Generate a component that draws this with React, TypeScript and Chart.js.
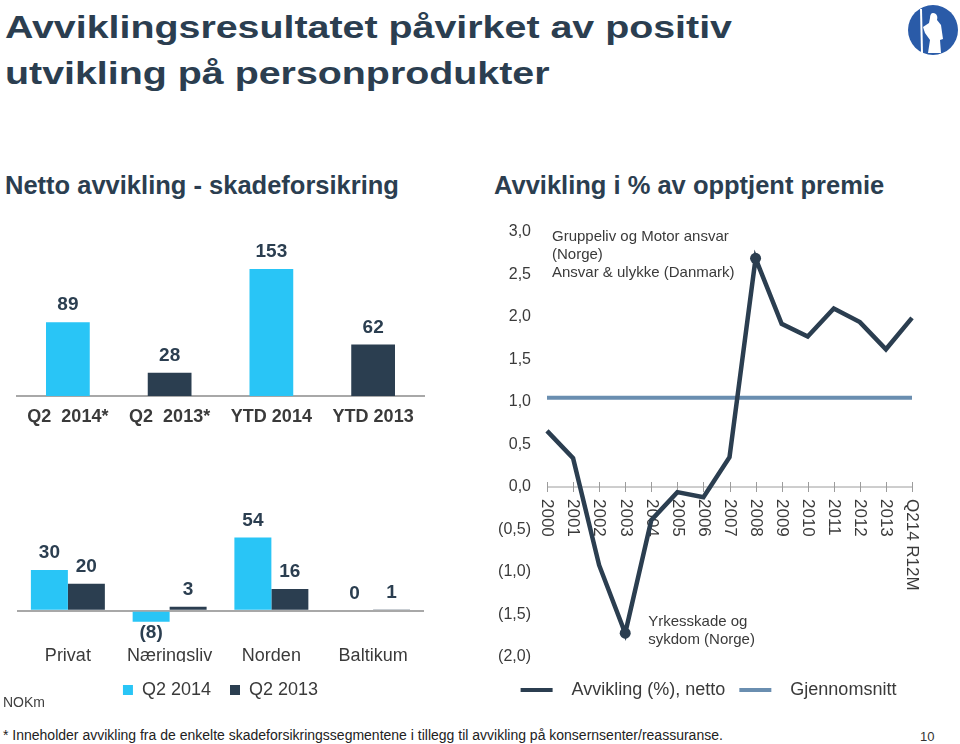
import React, { useEffect, useRef } from 'react';
import { Chart, registerables } from 'chart.js';

Chart.register(...registerables);

const FONT = '"Liberation Sans", Arial, Helvetica, sans-serif';
const NAVY = '#2b3e50';
const CYAN = '#29c5f6';
const AVG_BLUE = '#6a8eb0';
const GRAY_TEXT = '#3a3a3a';
const AXIS_GRAY = '#a8a8a8';

// ---- Chart 1: Netto avvikling (NOKm)
const periodLabels = ['Q2  2014*', 'Q2  2013*', 'YTD 2014', 'YTD 2013'];
const periodValues = [89, 28, 153, 62];
const periodColors = [CYAN, NAVY, CYAN, NAVY];

// ---- Chart 2: per segment
const segmentLabels = ['Privat', 'Næringsliv', 'Norden', 'Baltikum'];
const seriesQ22014 = [30, -8, 54, 0];
const seriesQ22013 = [20, 3, 16, 1];
const segmentSeriesNames = ['Q2 2014', 'Q2 2013'];

// ---- Chart 3: Avvikling i % av opptjent premie
const yearLabels = ['2000', '2001', '2002', '2003', '2004', '2005', '2006', '2007', '2008', '2009', '2010', '2011', '2012', '2013', 'Q214 R12M'];
const avviklingNetto = [0.66, 0.34, -0.92, -1.72, -0.39, -0.06, -0.12, 0.35, 2.69, 1.92, 1.77, 2.1, 1.94, 1.62, 1.99];
const gjennomsnitt = [1.05, 1.05, 1.05, 1.05, 1.05, 1.05, 1.05, 1.05, 1.05, 1.05, 1.05, 1.05, 1.05, 1.05, 1.05];
const lineSeriesNames = ['Avvikling (%), netto', 'Gjennomsnitt'];
const markedPoints = [3, 8];
const noteHigh = ['Gruppeliv og Motor ansvar', '(Norge)', 'Ansvar & ulykke (Danmark)'];
const noteLow = ['Yrkesskade og', 'sykdom (Norge)'];

const fmtValue = (v: number) => (v < 0 ? `(${-v})` : String(v));
const fmtPct = (v: number) => {
  const s = Math.abs(v).toFixed(1).replace('.', ',');
  return v < 0 ? `(${s})` : s;
};

const barValueLabels = (size: number) => ({
  id: 'barValueLabels',
  afterDatasetsDraw(chart: any) {
    const { ctx } = chart;
    ctx.save();
    ctx.font = `bold ${size}px ${FONT}`;
    ctx.fillStyle = NAVY;
    ctx.textAlign = 'center';
    ctx.textBaseline = 'middle';
    chart.data.datasets.forEach((ds: any, di: number) => {
      const meta = chart.getDatasetMeta(di);
      meta.data.forEach((bar: any, i: number) => {
        const v = ds.data[i] as number;
        const top = Math.min(bar.y, bar.base);
        const bottom = Math.max(bar.y, bar.base);
        const y = v < 0 ? bottom + 11 : top - 17;
        ctx.fillText(fmtValue(v), bar.x, y);
      });
    });
    ctx.restore();
  },
});

const lineAxisPlugin = {
  id: 'lineAxis',
  beforeDatasetsDraw(chart: any) {
    const { ctx, chartArea } = chart;
    const x = chart.scales.x;
    const y = chart.scales.y;
    const y0 = y.getPixelForValue(0);
    ctx.save();
    // y tick labels (right aligned, from the y scale's own ticks)
    ctx.fillStyle = GRAY_TEXT;
    ctx.font = `16px ${FONT}`;
    ctx.textAlign = 'right';
    ctx.textBaseline = 'middle';
    y.ticks.forEach((t: any) => {
      ctx.fillText(fmtPct(t.value), chartArea.left - 16, y.getPixelForValue(t.value));
    });
    // x axis line at zero with crossing tick marks
    ctx.strokeStyle = '#9c9c9c';
    ctx.lineWidth = 1;
    ctx.beginPath();
    ctx.moveTo(chartArea.left, y0);
    ctx.lineTo(chartArea.right, y0);
    yearLabels.forEach((_, i) => {
      const px = Math.round(x.getPixelForValue(i)) + 0.5;
      ctx.moveTo(px, y0 - 5);
      ctx.lineTo(px, y0 + 5);
    });
    ctx.stroke();
    // rotated category labels
    ctx.font = `17px ${FONT}`;
    ctx.textAlign = 'left';
    yearLabels.forEach((lab, i) => {
      const px = x.getPixelForValue(i);
      ctx.save();
      ctx.translate(px, y0 + 12);
      ctx.rotate(Math.PI / 2);
      ctx.fillText(lab, 0, 0);
      ctx.restore();
    });
    ctx.restore();
  },
  afterDatasetsDraw(chart: any) {
    const { ctx } = chart;
    const x = chart.scales.x;
    const y = chart.scales.y;
    ctx.save();
    ctx.fillStyle = GRAY_TEXT;
    ctx.font = `15px ${FONT}`;
    ctx.textAlign = 'left';
    ctx.textBaseline = 'middle';
    const hx = x.getPixelForValue(0) + 5;
    const hy = y.getPixelForValue(3) + 5;
    noteHigh.forEach((l, i) => ctx.fillText(l, hx, hy + i * 18));
    const lx = x.getPixelForValue(markedPoints[0]) + 23;
    const ly = y.getPixelForValue(avviklingNetto[markedPoints[0]]) - 11;
    noteLow.forEach((l, i) => ctx.fillText(l, lx, ly + i * 18));
    ctx.restore();
  },
};

function makeChart1(): any {
  return {
    type: 'bar',
    data: {
      labels: periodLabels,
      datasets: [
        { data: periodValues, backgroundColor: periodColors, barPercentage: 0.43, categoryPercentage: 1.0 },
      ],
    },
    options: {
      responsive: false,
      animation: false,
      layout: { padding: { left: 17, right: 16, top: 30, bottom: 0 } },
      plugins: { legend: { display: false }, tooltip: { enabled: false } },
      scales: {
        x: {
          grid: { display: false, drawTicks: false },
          border: { display: true, color: AXIS_GRAY, width: 2 },
          ticks: { font: { family: FONT, size: 18, weight: 'bold' }, color: GRAY_TEXT, padding: 10, maxRotation: 0, autoSkip: false },
          afterFit: (s: any) => { s.height = 44; },
        },
        y: { display: false, min: 0, max: 200 },
      },
    },
    plugins: [barValueLabels(19)],
  };
}

function makeChart2(): any {
  return {
    type: 'bar',
    data: {
      labels: segmentLabels,
      datasets: [
        { label: segmentSeriesNames[0], data: seriesQ22014, backgroundColor: CYAN, categoryPercentage: 0.727, barPercentage: 1.0 },
        { label: segmentSeriesNames[1], data: seriesQ22013, backgroundColor: NAVY, categoryPercentage: 0.727, barPercentage: 1.0 },
      ],
    },
    options: {
      responsive: false,
      animation: false,
      layout: { padding: { left: 17, right: 16, top: 45.8, bottom: 0 } },
      plugins: {
        tooltip: { enabled: false },
        legend: {
          display: true,
          position: 'bottom',
          labels: { boxWidth: 10, boxHeight: 10, padding: 19, font: { family: FONT, size: 18 }, color: GRAY_TEXT },
        },
      },
      scales: {
        x: {
          grid: { display: false, drawTicks: false },
          border: { display: false },
          ticks: { font: { family: FONT, size: 18 }, color: GRAY_TEXT, padding: 7, maxRotation: 0, autoSkip: false },
          afterFit: (s: any) => { s.height = 24; },
        },
        y: {
          min: -20,
          max: 70,
          ticks: { display: false, stepSize: 10 },
          grid: {
            drawTicks: false,
            lineWidth: 2,
            color: (c: any) => (c.tick && c.tick.value === 0 ? AXIS_GRAY : 'rgba(0,0,0,0)'),
          },
          border: { display: false },
          afterFit: (s: any) => { s.width = 0; },
        },
      },
    },
    plugins: [barValueLabels(19)],
  };
}

function makeChart3(): any {
  return {
    type: 'line',
    data: {
      labels: yearLabels,
      datasets: [
        {
          label: lineSeriesNames[0],
          data: avviklingNetto,
          borderColor: NAVY,
          backgroundColor: NAVY,
          borderWidth: 4.5,
          pointRadius: (c: any) => (markedPoints.includes(c.dataIndex) ? 5.5 : 0),
          pointBorderWidth: 0,
          tension: 0,
        },
        {
          label: lineSeriesNames[1],
          data: gjennomsnitt,
          borderColor: AVG_BLUE,
          backgroundColor: AVG_BLUE,
          borderWidth: 4,
          pointRadius: 0,
          tension: 0,
        },
      ],
    },
    options: {
      responsive: false,
      animation: false,
      layout: { padding: { left: 15, right: 14, top: 32, bottom: 0 } },
      plugins: {
        tooltip: { enabled: false },
        legend: {
          display: true,
          position: 'bottom',
          labels: {
            boxWidth: 32,
            boxHeight: 4,
            padding: 14,
            font: { family: FONT, size: 18 },
            color: GRAY_TEXT,
            generateLabels: (chart: any) =>
              chart.data.datasets.map((ds: any, i: number) => ({
                text: '  ' + ds.label,
                fillStyle: ds.borderColor,
                strokeStyle: ds.borderColor,
                lineWidth: 0,
                hidden: false,
                datasetIndex: i,
                fontColor: GRAY_TEXT,
              })),
          },
        },
      },
      scales: {
        x: {
          grid: { display: false, drawTicks: false },
          border: { display: false },
          ticks: { display: false },
          afterFit: (s: any) => { s.height = 10; },
        },
        y: {
          min: -2,
          max: 3,
          ticks: { display: false, stepSize: 0.5 },
          grid: { display: false, drawTicks: false },
          border: { display: false },
          afterFit: (s: any) => { s.width = 42; },
        },
      },
    },
    plugins: [lineAxisPlugin],
  };
}

function ChartBox({ make, left, top, width, height }: { make: () => any; left: number; top: number; width: number; height: number }) {
  const ref = useRef<HTMLCanvasElement>(null);
  useEffect(() => {
    const chart = new Chart(ref.current as HTMLCanvasElement, make());
    return () => chart.destroy();
  }, []);
  return (
    <div style={{ position: 'absolute', left, top, width, height }}>
      <canvas ref={ref} width={width} height={height} style={{ width, height, display: 'block' }} />
    </div>
  );
}

export default function App() {
  return (
    <div
      style={{
        position: 'absolute',
        left: 0,
        top: 0,
        width: 960,
        height: 744,
        background: '#ffffff',
        overflow: 'hidden',
        fontFamily: FONT,
      }}
    >
      <div
        style={{
          position: 'absolute',
          left: 5,
          top: 4,
          fontSize: 32,
          lineHeight: '46px',
          fontWeight: 'bold',
          color: NAVY,
          whiteSpace: 'nowrap',
          transform: 'scaleX(1.23)',
          transformOrigin: 'left top',
        }}
      >
        Avviklingsresultatet påvirket av positiv
        <br />
        utvikling på personprodukter
      </div>

      <svg style={{ position: 'absolute', left: 906, top: 3 }} width={54} height={54} viewBox="0 0 54 54">
        <circle cx={27} cy={27} r={25} fill="#2a5ba8" />
        <line x1={15} y1={6} x2={16} y2={50} stroke="#ffffff" strokeWidth={2} />
        <path d="M27 10 C31 10 32 14 31 17 L35 22 L37 36 L34 37 L35 50 L22 50 L24 37 L19 30 L17 24 L23 20 L24 15 C24 12 25 10 27 10 Z" fill="#ffffff" />
      </svg>

      <div style={{ position: 'absolute', left: 5, top: 173, fontSize: 25.5, lineHeight: '25.5px', fontWeight: 'bold', color: NAVY, whiteSpace: 'nowrap' }}>
        Netto avvikling - skadeforsikring
      </div>
      <div style={{ position: 'absolute', left: 494, top: 173, fontSize: 25.5, lineHeight: '25.5px', fontWeight: 'bold', color: NAVY, whiteSpace: 'nowrap' }}>
        Avvikling i % av opptjent premie
      </div>

      <ChartBox make={makeChart1} left={0} top={200} width={440} height={240} />
      <ChartBox make={makeChart2} left={0} top={470} width={440} height={239} />
      <ChartBox make={makeChart3} left={490} top={200} width={436} height={509} />

      <div style={{ position: 'absolute', left: 3, top: 694, fontSize: 14, lineHeight: '16px', color: '#404040' }}>NOKm</div>
      <div style={{ position: 'absolute', left: 3, top: 727, fontSize: 14, lineHeight: '17px', color: '#222222', whiteSpace: 'nowrap' }}>
        * Inneholder avvikling fra de enkelte skadeforsikringssegmentene i tillegg til avvikling på konsernsenter/reassuranse.
      </div>
      <div style={{ position: 'absolute', left: 920, top: 729, fontSize: 13, lineHeight: '16px', color: '#333333' }}>10</div>
    </div>
  );
}
